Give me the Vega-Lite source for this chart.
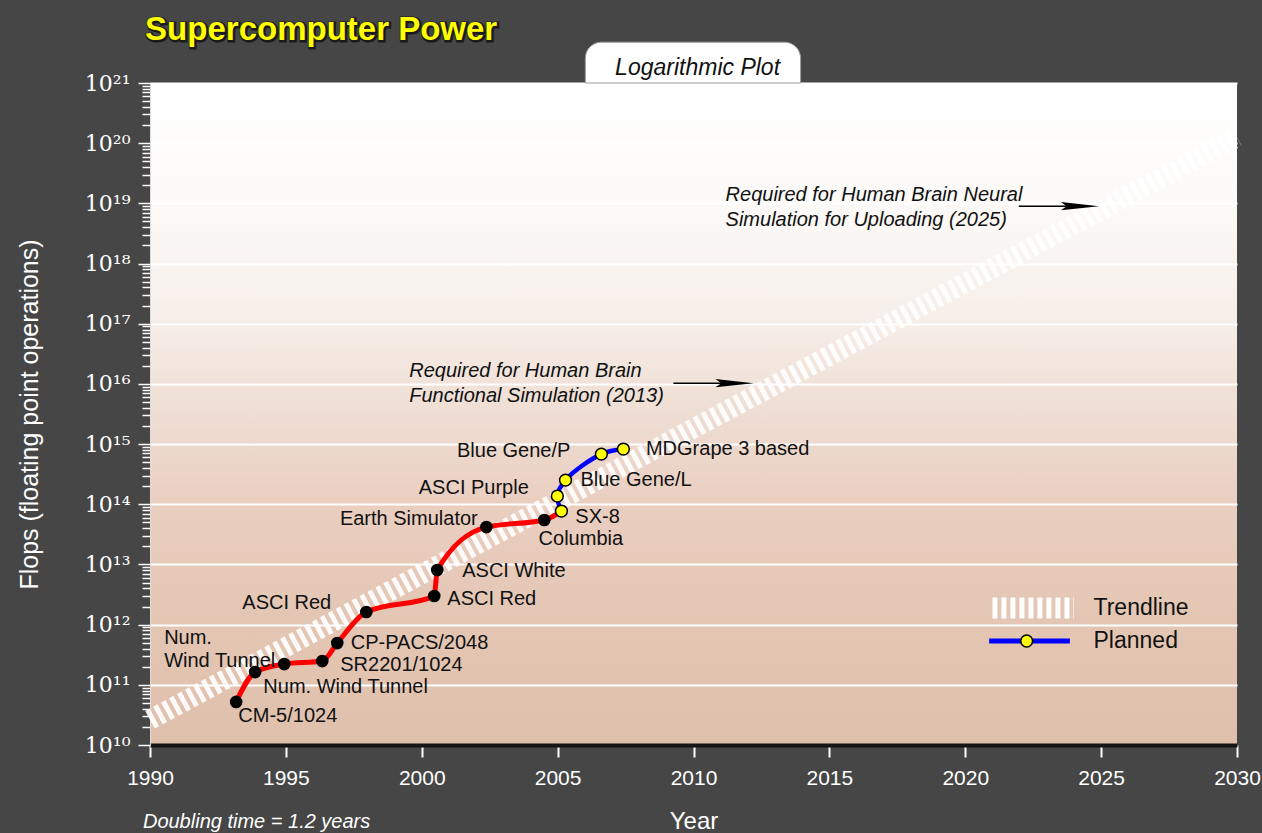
{
  "$schema": "https://vega.github.io/schema/vega-lite/v6.json",
  "width": 1087,
  "height": 662,
  "autosize": {"type": "none"},
  "padding": {"left": 150, "top": 83, "right": 25, "bottom": 88},
  "background": "#464646",
  "config": {
    "font": "Liberation Sans",
    "view": {
      "stroke": null,
      "fill": {
        "gradient": "linear", "x1": 0, "y1": 0, "x2": 0, "y2": 1,
        "stops": [
          {"offset": 0, "color": "#ffffff"},
          {"offset": 0.18, "color": "#fcfaf8"},
          {"offset": 0.37, "color": "#f6ede7"},
          {"offset": 0.46, "color": "#f0e2d9"},
          {"offset": 0.63, "color": "#eacfc1"},
          {"offset": 0.8, "color": "#e4c6b4"},
          {"offset": 1, "color": "#dfc0ac"}
        ]
      }
    }
  },
  "data": {"values": [{"note": "annotation"}]},
  "datasets": {
    "points": [
      {"name": "CM-5/1024", "year": 1993.17, "flops": 5.2e10, "status": "built"},
      {"name": "Num. Wind Tunnel", "year": 1993.87, "flops": 1.63e11, "status": "built"},
      {"name": "Num. Wind Tunnel (upgrade)", "year": 1994.94, "flops": 2.21e11, "status": "built"},
      {"name": "SR2201/1024", "year": 1996.34, "flops": 2.48e11, "status": "built"},
      {"name": "CP-PACS/2048", "year": 1996.89, "flops": 4.94e11, "status": "built"},
      {"name": "ASCI Red", "year": 1997.96, "flops": 1.62e12, "status": "built"},
      {"name": "ASCI Red (upgrade)", "year": 2000.46, "flops": 2.99e12, "status": "built"},
      {"name": "ASCI White", "year": 2000.57, "flops": 8.07e12, "status": "built"},
      {"name": "Earth Simulator", "year": 2002.38, "flops": 4.18e13, "status": "built"},
      {"name": "Columbia", "year": 2004.51, "flops": 5.47e13, "status": "built"},
      {"name": "SX-8", "year": 2005.14, "flops": 7.71e13, "status": "planned"},
      {"name": "ASCI Purple", "year": 2004.99, "flops": 1.37e14, "status": "planned"},
      {"name": "Blue Gene/L", "year": 2005.29, "flops": 2.52e14, "status": "planned"},
      {"name": "Blue Gene/P", "year": 2006.61, "flops": 6.82e14, "status": "planned"},
      {"name": "MDGrape 3 based", "year": 2007.42, "flops": 8.26e14, "status": "planned"}
    ],
    "trend": [
      {"year": 1990, "flops": 2.63e10},
      {"year": 2030, "flops": 1.26e20}
    ],
    "labelsRightOf": [
      {"label": "CM-5/1024", "year": 1993.25, "flops": 3.03e10},
      {"label": "Num. Wind Tunnel", "year": 1994.17, "flops": 9.29e10},
      {"label": "SR2201/1024", "year": 1997.0, "flops": 2.13e11},
      {"label": "CP-PACS/2048", "year": 1997.39, "flops": 4.89e11},
      {"label": "ASCI Red", "year": 2000.94, "flops": 2.63e12},
      {"label": "ASCI White", "year": 2001.49, "flops": 7.85e12},
      {"label": "Columbia", "year": 2004.3, "flops": 2.64e13},
      {"label": "SX-8", "year": 2005.65, "flops": 6.05e13},
      {"label": "Blue Gene/L", "year": 2005.84, "flops": 2.52e14},
      {"label": "MDGrape 3 based", "year": 2008.25, "flops": 8.26e14},
      {"label": "Num.\nWind Tunnel", "year": 1990.52, "flops": 5.98e11}
    ],
    "labelsLeftOf": [
      {"label": "ASCI Red", "year": 1996.67, "flops": 2.26e12},
      {"label": "Earth Simulator", "year": 2002.06, "flops": 5.68e13},
      {"label": "ASCI Purple", "year": 2003.94, "flops": 1.84e14},
      {"label": "Blue Gene/P", "year": 2005.47, "flops": 7.74e14}
    ],
    "notes": [
      {"label": "Required for Human Brain\nFunctional Simulation (2013)", "year": 1999.54, "flops": 1.66e16},
      {"label": "Required for Human Brain Neural\nSimulation for Uploading (2025)", "year": 2011.18, "flops": 1.37e19}
    ]
  },
  "layer": [
    {
      "mark": {"type": "rect", "fill": "#ffffff", "stroke": "#9a9a9a", "strokeWidth": 1, "cornerRadiusTopLeft": 16, "cornerRadiusTopRight": 16},
      "encoding": {
        "x": {"datum": 2006.02, "type": "quantitative"},
        "x2": {"datum": 2013.94},
        "y": {"datum": 4.77e21, "type": "quantitative", "scale": {"type": "log"}},
        "y2": {"datum": 1e21}
      }
    },
    {
      "mark": {"type": "text", "text": "Logarithmic Plot", "fontSize": 23, "fontStyle": "italic", "fill": "#111111", "align": "center", "baseline": "middle"},
      "encoding": {
        "x": {"datum": 2010.15, "type": "quantitative"},
        "y": {"datum": 1.78e21, "type": "quantitative", "scale": {"type": "log"}}
      }
    },
    {
      "mark": {"type": "text", "text": "Supercomputer Power", "fontSize": 33, "fontWeight": "bold", "fill": "#1a1a1a", "stroke": "#1a1a1a", "strokeWidth": 3, "align": "left", "baseline": "middle", "dx": 1, "dy": 1},
      "encoding": {
        "x": {"datum": 1989.82, "type": "quantitative"},
        "y": {"datum": 7.6e21, "type": "quantitative", "scale": {"type": "log"}}
      }
    },
    {
      "mark": {"type": "text", "text": "Supercomputer Power", "fontSize": 33, "fontWeight": "bold", "fill": "#ffff00", "align": "left", "baseline": "middle"},
      "encoding": {
        "x": {"datum": 1989.82, "type": "quantitative"},
        "y": {"datum": 7.6e21, "type": "quantitative", "scale": {"type": "log"}}
      }
    },
    {
      "data": {"name": "trend"},
      "mark": {"type": "line", "color": "#ffffff", "strokeWidth": 20, "strokeDash": [5, 4], "strokeCap": "butt", "opacity": 0.92},
      "encoding": {
        "x": {
          "field": "year", "type": "quantitative",
          "scale": {"domain": [1990, 2030], "nice": false, "zero": false},
          "axis": {
            "title": "Year", "titleColor": "#ffffff", "titleFontSize": 24, "titleFontWeight": "normal", "titlePadding": 21,
            "values": [1990, 1995, 2000, 2005, 2010, 2015, 2020, 2025, 2030], "format": "d",
            "labelColor": "#ffffff", "labelFontSize": 21, "labelPadding": 10, "labelFlush": false,
            "tickColor": "#ffffff", "tickSize": 12, "tickWidth": 2,
            "domainColor": "#151515", "domainWidth": 4, "grid": false
          }
        },
        "y": {
          "field": "flops", "type": "quantitative",
          "scale": {"type": "log", "domain": [1e10, 1e21], "nice": false},
          "axis": {
            "title": "Flops (floating point operations)", "titleColor": "#ffffff", "titleFontSize": 25, "titleFontWeight": "normal", "titlePadding": 42,
            "tickCount": 100,
            "labelExpr": "abs(log(datum.value)/LN10 - round(log(datum.value)/LN10)) < 0.01 ? '10' + ['⁰','¹','²','³','⁴','⁵','⁶','⁷','⁸','⁹'][floor(round(log(datum.value)/LN10)/10)] + ['⁰','¹','²','³','⁴','⁵','⁶','⁷','⁸','⁹'][round(log(datum.value)/LN10) % 10] : ''",
            "labelColor": "#ffffff", "labelFont": "DejaVu Serif", "labelFontSize": 22, "labelPadding": 8, "labelOverlap": false, "labelFlush": false,
            "tickColor": "#ffffff", "tickWidth": 1.5,
            "tickSize": {"condition": {"test": "abs(log(datum.value)/LN10 - round(log(datum.value)/LN10)) < 0.01", "value": 12}, "value": 8},
            "grid": true, "gridColor": "#ffffff", "gridWidth": 2,
            "gridOpacity": {"condition": {"test": "abs(log(datum.value)/LN10 - round(log(datum.value)/LN10)) < 0.01", "value": 1}, "value": 0},
            "domainColor": "#dddddd", "domainWidth": 1
          }
        }
      }
    },
    {
      "data": {"name": "points"},
      "transform": [{"filter": "datum.status == 'built' || datum.name == 'SX-8'"}],
      "mark": {"type": "line", "color": "#ff0000", "strokeWidth": 5, "interpolate": "monotone"},
      "encoding": {
        "x": {"field": "year", "type": "quantitative"},
        "y": {"field": "flops", "type": "quantitative", "scale": {"type": "log"}}
      }
    },
    {
      "data": {"name": "points"},
      "transform": [{"filter": "datum.status == 'planned'"}],
      "mark": {"type": "line", "color": "#0000ff", "strokeWidth": 4.5, "interpolate": "catmull-rom"},
      "encoding": {
        "x": {"field": "year", "type": "quantitative"},
        "y": {"field": "flops", "type": "quantitative", "scale": {"type": "log"}},
        "order": {"field": "flops", "type": "quantitative"}
      }
    },
    {
      "data": {"name": "points"},
      "transform": [{"filter": "datum.status == 'built'"}],
      "mark": {"type": "circle", "size": 160, "color": "#000000", "opacity": 1},
      "encoding": {
        "x": {"field": "year", "type": "quantitative"},
        "y": {"field": "flops", "type": "quantitative", "scale": {"type": "log"}}
      }
    },
    {
      "data": {"name": "points"},
      "transform": [{"filter": "datum.status == 'planned'"}],
      "mark": {"type": "circle", "size": 140, "fill": "#ffff00", "stroke": "#000000", "strokeWidth": 1.5, "opacity": 1},
      "encoding": {
        "x": {"field": "year", "type": "quantitative"},
        "y": {"field": "flops", "type": "quantitative", "scale": {"type": "log"}}
      }
    },
    {
      "data": {"name": "labelsRightOf"},
      "mark": {"type": "text", "fontSize": 20, "fill": "#111111", "align": "left", "baseline": "middle", "lineBreak": "\n", "lineHeight": 23},
      "encoding": {
        "x": {"field": "year", "type": "quantitative"},
        "y": {"field": "flops", "type": "quantitative", "scale": {"type": "log"}},
        "text": {"field": "label"}
      }
    },
    {
      "data": {"name": "labelsLeftOf"},
      "mark": {"type": "text", "fontSize": 20, "fill": "#111111", "align": "right", "baseline": "middle"},
      "encoding": {
        "x": {"field": "year", "type": "quantitative"},
        "y": {"field": "flops", "type": "quantitative", "scale": {"type": "log"}},
        "text": {"field": "label"}
      }
    },
    {
      "data": {"name": "notes"},
      "mark": {"type": "text", "fontSize": 20, "fontStyle": "italic", "fill": "#111111", "align": "left", "baseline": "middle", "lineBreak": "\n", "lineHeight": 25},
      "encoding": {
        "x": {"field": "year", "type": "quantitative"},
        "y": {"field": "flops", "type": "quantitative", "scale": {"type": "log"}},
        "text": {"field": "label"}
      }
    },
    {
      "mark": {"type": "rule", "color": "#000000", "strokeWidth": 1.5},
      "encoding": {
        "x": {"datum": 2009.26, "type": "quantitative"},
        "x2": {"datum": 2011.51},
        "y": {"datum": 1.03e16, "type": "quantitative", "scale": {"type": "log"}}
      }
    },
    {
      "mark": {"type": "point", "shape": "M1,0 L-1,-0.22 L-0.7,0 L-1,0.22 Z", "size": 1444, "filled": true, "color": "#000000", "opacity": 1},
      "encoding": {
        "x": {"datum": 2011.51, "type": "quantitative"},
        "y": {"datum": 1.03e16, "type": "quantitative", "scale": {"type": "log"}}
      }
    },
    {
      "mark": {"type": "rule", "color": "#000000", "strokeWidth": 1.5},
      "encoding": {
        "x": {"datum": 2021.97, "type": "quantitative"},
        "x2": {"datum": 2024.22},
        "y": {"datum": 8.98e18, "type": "quantitative", "scale": {"type": "log"}}
      }
    },
    {
      "mark": {"type": "point", "shape": "M1,0 L-1,-0.22 L-0.7,0 L-1,0.22 Z", "size": 1444, "filled": true, "color": "#000000", "opacity": 1},
      "encoding": {
        "x": {"datum": 2024.22, "type": "quantitative"},
        "y": {"datum": 8.98e18, "type": "quantitative", "scale": {"type": "log"}}
      }
    },
    {
      "mark": {"type": "rule", "color": "#ffffff", "strokeWidth": 21, "strokeDash": [5, 4], "strokeCap": "butt"},
      "encoding": {
        "x": {"datum": 2021.0, "type": "quantitative"},
        "x2": {"datum": 2024.0},
        "y": {"datum": 1.89e12, "type": "quantitative", "scale": {"type": "log"}}
      }
    },
    {
      "mark": {"type": "text", "text": "Trendline", "fontSize": 23, "fill": "#111111", "align": "left", "baseline": "middle"},
      "encoding": {
        "x": {"datum": 2024.72, "type": "quantitative"},
        "y": {"datum": 1.89e12, "type": "quantitative", "scale": {"type": "log"}}
      }
    },
    {
      "mark": {"type": "rule", "color": "#0000ff", "strokeWidth": 5},
      "encoding": {
        "x": {"datum": 2020.88, "type": "quantitative"},
        "x2": {"datum": 2023.85},
        "y": {"datum": 5.35e11, "type": "quantitative", "scale": {"type": "log"}}
      }
    },
    {
      "mark": {"type": "circle", "size": 140, "fill": "#ffff00", "stroke": "#000000", "strokeWidth": 1.5, "opacity": 1},
      "encoding": {
        "x": {"datum": 2022.26, "type": "quantitative"},
        "y": {"datum": 5.35e11, "type": "quantitative", "scale": {"type": "log"}}
      }
    },
    {
      "mark": {"type": "text", "text": "Planned", "fontSize": 23, "fill": "#111111", "align": "left", "baseline": "middle"},
      "encoding": {
        "x": {"datum": 2024.72, "type": "quantitative"},
        "y": {"datum": 5.35e11, "type": "quantitative", "scale": {"type": "log"}}
      }
    },
    {
      "mark": {"type": "text", "text": "Doubling time = 1.2 years", "fontSize": 20, "fontStyle": "italic", "fill": "#ffffff", "align": "left", "baseline": "middle"},
      "encoding": {
        "x": {"datum": 1989.74, "type": "quantitative"},
        "y": {"datum": 5.26e8, "type": "quantitative", "scale": {"type": "log"}}
      }
    }
  ]
}
